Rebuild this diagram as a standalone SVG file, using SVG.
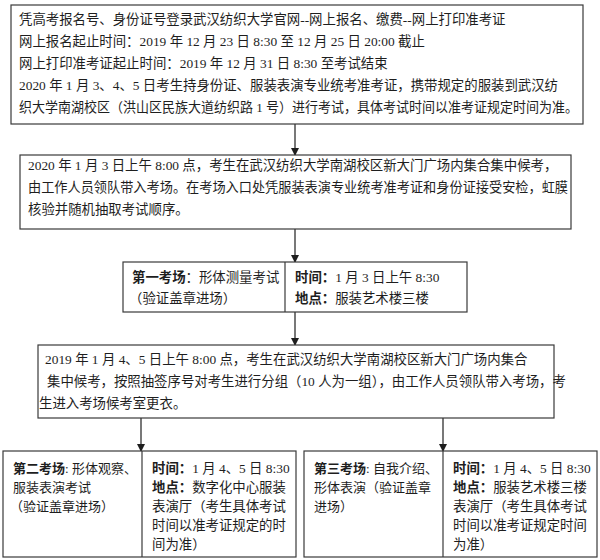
<svg xmlns="http://www.w3.org/2000/svg" width="600" height="560" viewBox="0 0 600 560">
<style>
  .box { fill: #ffffff; stroke: #3a3a3a; stroke-width: 1.2; }
  .div { stroke: #3a3a3a; stroke-width: 1.2; }
  .t { font-family: "Liberation Serif", "Noto Sans CJK SC", serif; font-size: 13.4px; fill: #1e1e1e; }
  .s { font-size: 13px; }
  .b { font-weight: bold; }
  .conn { stroke: #1e1e1e; stroke-width: 1.2; fill: none; marker-end: url(#arr); }
</style>
<defs>
  <marker id="arr" markerUnits="userSpaceOnUse" markerWidth="8" markerHeight="10" refX="7" refY="4" orient="auto">
    <path d="M0,0 L8,4 L0,8 z" fill="#1e1e1e"/>
  </marker>
</defs>
<rect width="600" height="560" fill="#ffffff"/>

<g id="connectors">
  <line class="conn" x1="295" y1="124" x2="295" y2="155"/>
  <line class="conn" x1="295" y1="229" x2="295" y2="262"/>
  <line class="conn" x1="295" y1="312" x2="295" y2="345"/>
  <line class="conn" x1="141" y1="418" x2="141" y2="451"/>
  <line class="conn" x1="443" y1="418" x2="443" y2="451"/>
</g>

<g id="node-register">
  <rect class="box" x="11" y="5" width="572" height="119"/>
  <text class="t" x="19" y="24">凭高考报名号、身份证号登录武汉纺织大学官网--网上报名、缴费--网上打印准考证</text>
  <text class="t" x="19" y="46">网上报名起止时间：2019 年 12 月 23 日 8:30 至 12 月 25 日 20:00 截止</text>
  <text class="t" x="19" y="68">网上打印准考证起止时间：2019 年 12 月 31 日 8:30 至考试结束</text>
  <text class="t" x="19" y="90">2020 年 1 月 3、4、5 日考生持身份证、服装表演专业统考准考证，携带规定的服装到武汉纺</text>
  <text class="t" x="19" y="112" textLength="559" lengthAdjust="spacingAndGlyphs">织大学南湖校区（洪山区民族大道纺织路 1 号）进行考试，具体考试时间以准考证规定时间为准。</text>
</g>

<g id="node-assemble">
  <rect class="box" x="20" y="155" width="551" height="74"/>
  <text class="t" x="28" y="170">2020 年 1 月 3 日上午 8:00 点，考生在武汉纺织大学南湖校区新大门广场内集合集中候考，</text>
  <text class="t" x="28" y="192" textLength="540" lengthAdjust="spacingAndGlyphs">由工作人员领队带入考场。在考场入口处凭服装表演专业统考准考证和身份证接受安检，虹膜</text>
  <text class="t" x="28" y="214">核验并随机抽取考试顺序。</text>
</g>

<g id="node-room1">
  <rect class="box" x="123" y="262" width="344" height="50"/>
  <line class="div" x1="285" y1="262" x2="285" y2="312"/>
  <text class="t" x="132" y="282"><tspan class="b">第一考场</tspan>：形体测量考试</text>
  <text class="t" x="129" y="303">（验证盖章进场）</text>
  <text class="t" x="295" y="282"><tspan class="b">时间：</tspan>1 月 3 日上午 8:30</text>
  <text class="t" x="295" y="303"><tspan class="b">地点：</tspan>服装艺术楼三楼</text>
</g>

<g id="node-group">
  <rect class="box" x="38" y="345" width="516" height="73"/>
  <text class="t" x="45" y="364">2019 年 1 月 4、5 日上午 8:00 点，考生在武汉纺织大学南湖校区新大门广场内集合</text>
  <text class="t" x="47" y="386">集中候考，按照抽签序号对考生进行分组（10 人为一组），由工作人员领队带入考场，考</text>
  <text class="t" x="39" y="408">生进入考场候考室更衣。</text>
</g>

<g id="node-room2">
  <rect class="box" x="3" y="451" width="293" height="106"/>
  <line class="div" x1="142" y1="451" x2="142" y2="557"/>
  <text class="t s" x="13" y="473"><tspan class="b">第二考场</tspan>: 形体观察、</text>
  <text class="t s" x="13" y="492">服装表演考试</text>
  <text class="t s" x="10" y="511">（验证盖章进场）</text>
  <text class="t" x="152" y="473"><tspan class="b">时间：</tspan>1 月 4、5 日 8:30</text>
  <text class="t" x="152" y="492"><tspan class="b">地点：</tspan>数字化中心服装</text>
  <text class="t" x="152" y="511">表演厅（考生具体考试</text>
  <text class="t" x="152" y="530">时间以准考证规定的时</text>
  <text class="t" x="152" y="549">间为准）</text>
</g>

<g id="node-room3">
  <rect class="box" x="304" y="451" width="293" height="106"/>
  <line class="div" x1="443" y1="451" x2="443" y2="557"/>
  <text class="t s" x="314" y="473"><tspan class="b">第三考场</tspan>: 自我介绍、</text>
  <text class="t s" x="314" y="492">形体表演（验证盖章</text>
  <text class="t s" x="314" y="511">进场）</text>
  <text class="t" x="453" y="473"><tspan class="b">时间：</tspan>1 月 4、5 日 8:30</text>
  <text class="t" x="453" y="492"><tspan class="b">地点：</tspan>服装艺术楼三楼</text>
  <text class="t" x="453" y="511">表演厅（考生具体考试</text>
  <text class="t" x="453" y="530">时间以准考证规定时间</text>
  <text class="t" x="453" y="549">为准）</text>
</g>
</svg>
